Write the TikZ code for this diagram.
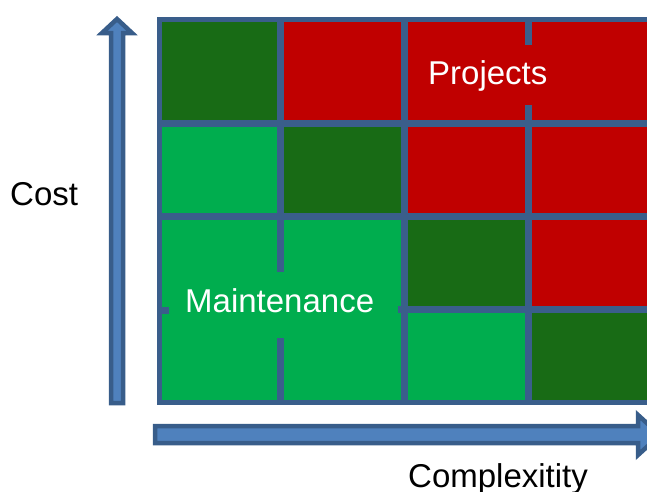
\documentclass[tikz,border=0pt]{standalone}
\usepackage{fontspec}
\setmainfont{Liberation Sans}
\usepackage{tikz}
\usepackage{xcolor}
\definecolor{cellDark}{HTML}{186B15}
\definecolor{cellRed}{HTML}{C00000}
\definecolor{cellLight}{HTML}{00AD4E}
\definecolor{gridLine}{HTML}{3A5E8B}
\definecolor{arrowFill}{HTML}{4F81BD}
\definecolor{arrowLine}{HTML}{385D8A}
\tikzset{
  sep/.style={gridLine,line width=7pt},
  axisarrow/.style={fill=arrowFill,draw=arrowLine,line width=4.5pt,line join=miter},
  bigtext/.style={font=\fontsize{33}{40}\selectfont,inner sep=0pt,anchor=base west}
}
\begin{document}
\begin{tikzpicture}[x=1pt,y=-1pt]
\useasboundingbox (0,0) rectangle (647,491);
\clip (0,0) rectangle (647,491);
% cells
\foreach \xa/\ya/\xb/\yb/\c in {157/18/280/123/cellDark, 280/18/404/123/cellRed, 404/18/660/123/cellRed,
  157/123/280/216/cellLight, 280/123/404/216/cellDark, 404/123/660/216/cellRed,
  157/216/404/404/cellLight, 404/216/528/309/cellDark, 528/216/660/309/cellRed,
  404/309/528/404/cellLight, 528/309/660/404/cellDark}{
  \fill[\c] (\xa,\ya) rectangle (\xb,\yb);
}
% grid lines
\draw[gridLine,line width=5pt] (660,19.5) -- (159,19.5) -- (159,402.5) -- (660,402.5);
\draw[sep] (159,123) -- (660,123);
\draw[sep] (159,216) -- (660,216);
\draw[sep] (398,309) -- (660,309);
\draw[sep] (159,310) -- (169,310);
\draw[sep] (404,19.5) -- (404,402.5);
\draw[sep] (280,19.5) -- (280,272);
\draw[sep] (280,338) -- (280,402.5);
\draw[sep] (528,19.5) -- (528,45);
\draw[sep] (528,105) -- (528,402.5);
% axes
\draw[axisarrow] (111,403) -- (111,33) -- (102,33) -- (117,19) -- (132,33) -- (123,33) -- (123,403) -- cycle;
\draw[axisarrow] (155,426) -- (638,426) -- (638,415) -- (660,435) -- (638,455) -- (638,443) -- (155,443) -- cycle;
% labels
\node[bigtext] (cost) at (10,205) {Cost};
\node[bigtext] (complexity) at (408,487) {Complexitity};
\node[bigtext,white] (projects) at (428,84) {Projects};
\node[bigtext,white] (maintenance) at (185,312) {Maintenance};
\end{tikzpicture}
\end{document}
